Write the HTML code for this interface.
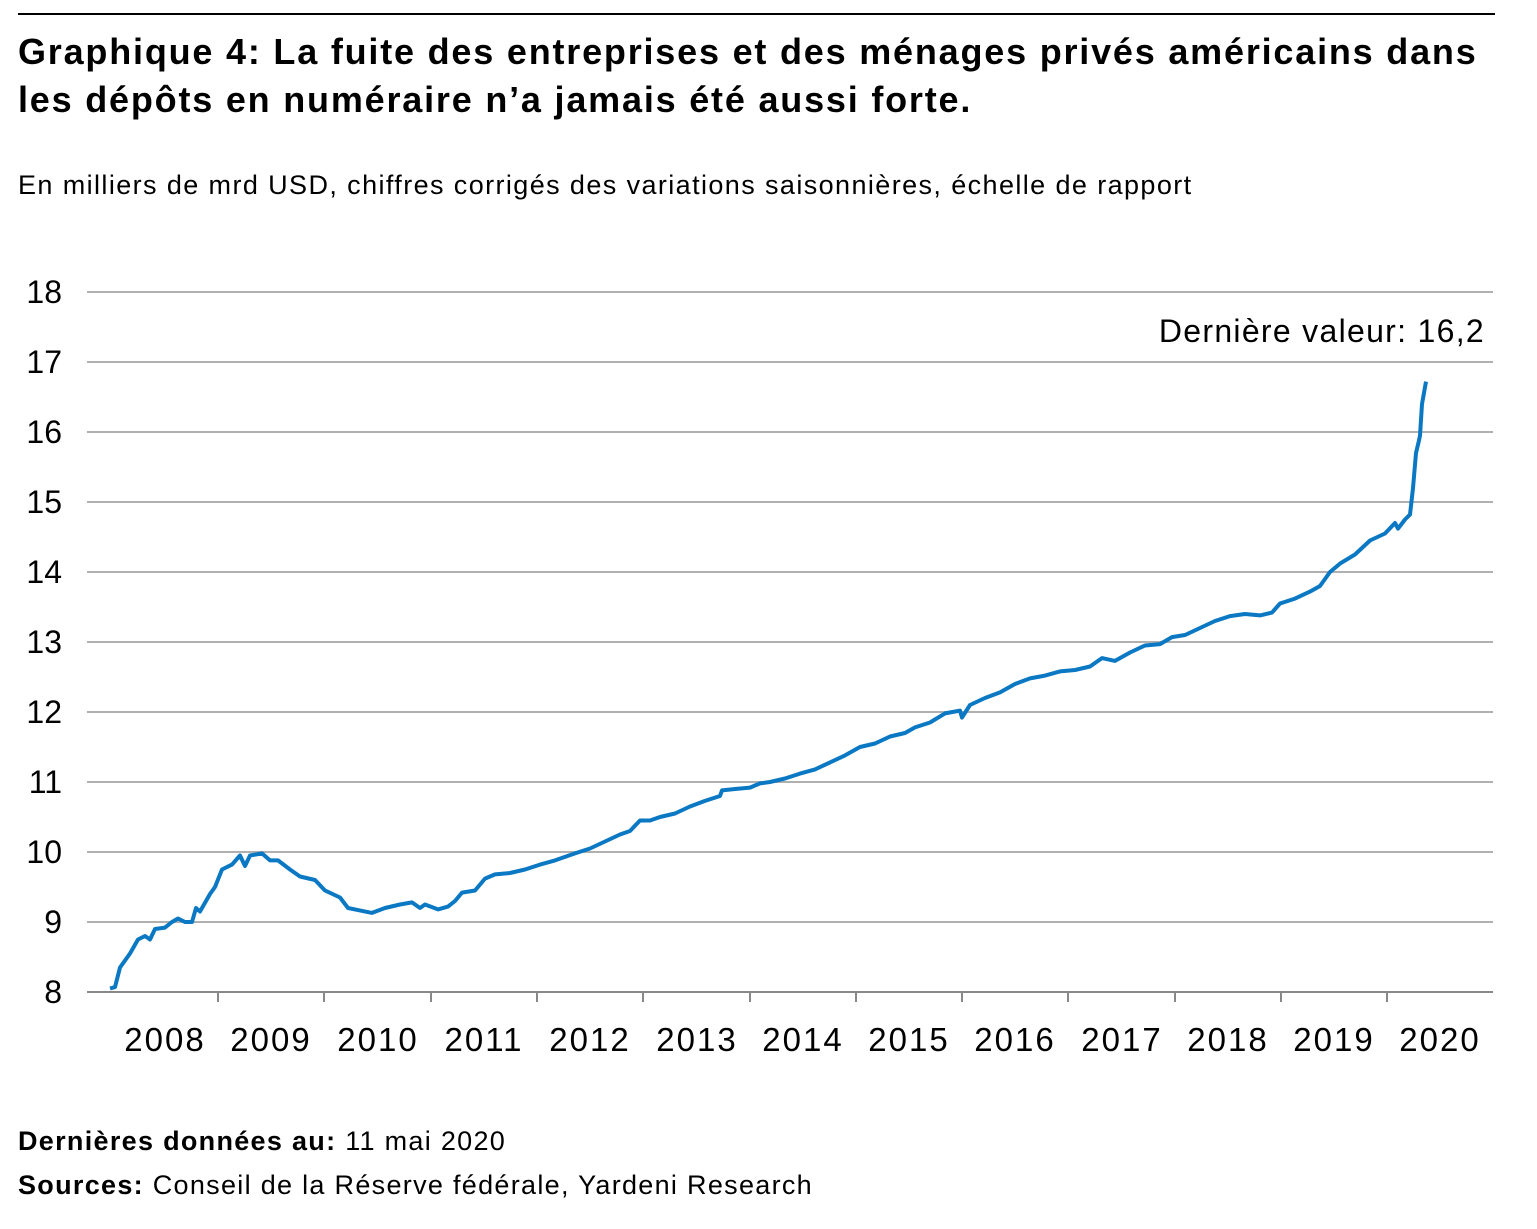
<!DOCTYPE html>
<html><head><meta charset="utf-8"><style>
body{margin:0;background:#fff;width:1537px;height:1229px;overflow:hidden;font-family:"Liberation Sans",sans-serif;color:#000}
.t{position:absolute;left:18px;top:28px;font-size:36px;font-weight:bold;line-height:48px;letter-spacing:1.8px;white-space:nowrap}
.s{position:absolute;left:18px;top:170px;font-size:27px;letter-spacing:1.4px;white-space:nowrap}
.f{position:absolute;left:18px;font-size:27px;letter-spacing:1.3px;white-space:nowrap}
</style></head><body>
<div style="position:absolute;left:18px;top:13px;width:1477px;height:2px;background:#000"></div>
<div class="t">Graphique 4: La fuite des entreprises et des ménages privés américains dans<br>les dépôts en numéraire n’a jamais été aussi forte.</div>
<div class="s">En milliers de mrd USD, chiffres corrigés des variations saisonnières, échelle de rapport</div>
<svg width="1537" height="1229" style="position:absolute;left:0;top:0">
<g stroke="#b0b0b0" stroke-width="2">
<line x1="87" x2="1493" y1="292" y2="292"/><line x1="87" x2="1493" y1="362" y2="362"/><line x1="87" x2="1493" y1="432" y2="432"/><line x1="87" x2="1493" y1="502" y2="502"/><line x1="87" x2="1493" y1="572" y2="572"/><line x1="87" x2="1493" y1="642" y2="642"/><line x1="87" x2="1493" y1="712" y2="712"/><line x1="87" x2="1493" y1="782" y2="782"/><line x1="87" x2="1493" y1="852" y2="852"/><line x1="87" x2="1493" y1="922" y2="922"/>
</g>
<line x1="87" x2="1493" y1="992" y2="992" stroke="#888" stroke-width="2"/>
<g stroke="#888" stroke-width="2">
<line x1="218" x2="218" y1="992" y2="1002"/><line x1="324" x2="324" y1="992" y2="1002"/><line x1="431" x2="431" y1="992" y2="1002"/><line x1="537" x2="537" y1="992" y2="1002"/><line x1="643" x2="643" y1="992" y2="1002"/><line x1="750" x2="750" y1="992" y2="1002"/><line x1="856" x2="856" y1="992" y2="1002"/><line x1="962" x2="962" y1="992" y2="1002"/><line x1="1068" x2="1068" y1="992" y2="1002"/><line x1="1175" x2="1175" y1="992" y2="1002"/><line x1="1281" x2="1281" y1="992" y2="1002"/><line x1="1387" x2="1387" y1="992" y2="1002"/>
</g>
<g font-size="32" text-anchor="end" font-family="Liberation Sans">
<text x="62" y="303">18</text><text x="62" y="373">17</text><text x="62" y="443">16</text><text x="62" y="513">15</text><text x="62" y="583">14</text><text x="62" y="653">13</text><text x="62" y="723">12</text><text x="62" y="793">11</text><text x="62" y="863">10</text><text x="62" y="933">9</text><text x="62" y="1003">8</text>
</g>
<g font-size="33" text-anchor="middle" font-family="Liberation Sans" letter-spacing="2">
<text x="165" y="1051">2008</text><text x="271" y="1051">2009</text><text x="378" y="1051">2010</text><text x="484" y="1051">2011</text><text x="590" y="1051">2012</text><text x="697" y="1051">2013</text><text x="803" y="1051">2014</text><text x="909" y="1051">2015</text><text x="1015" y="1051">2016</text><text x="1122" y="1051">2017</text><text x="1228" y="1051">2018</text><text x="1334" y="1051">2019</text><text x="1440" y="1051">2020</text>
</g>
<text x="1485" y="342" font-size="32" text-anchor="end" font-family="Liberation Sans" letter-spacing="1.3">Dernière valeur: 16,2</text>
<g transform="translate(0,992) scale(1,-70) translate(0,-8)">
<polyline fill="none" stroke="#0a78c2" stroke-width="4" vector-effect="non-scaling-stroke" stroke-linejoin="round" points="110,8.05 115,8.07 120,8.35 130,8.55 138,8.75 145,8.8 150,8.75 155,8.9 165,8.92 172,9.0 178,9.05 185,9.0 192,9.0 196,9.2 200,9.15 210,9.4 215,9.5 222,9.75 232,9.82 240,9.95 245,9.8 250,9.95 262,9.98 270,9.88 278,9.88 290,9.75 300,9.65 315,9.6 325,9.45 340,9.35 348,9.2 358,9.17 372,9.13 385,9.2 400,9.25 412,9.28 420,9.2 425,9.25 438,9.18 448,9.22 455,9.3 462,9.42 475,9.45 485,9.62 495,9.68 510,9.7 525,9.75 540,9.82 555,9.88 575,9.98 590,10.05 605,10.15 620,10.25 630,10.3 640,10.45 650,10.45 660,10.5 675,10.55 690,10.65 705,10.73 720,10.8 722,10.88 735,10.9 750,10.92 760,10.98 770,11.0 785,11.05 800,11.12 815,11.18 830,11.28 845,11.38 860,11.5 875,11.55 890,11.65 905,11.7 915,11.78 930,11.85 945,11.98 960,12.02 962,11.92 970,12.1 985,12.2 1000,12.28 1015,12.4 1030,12.48 1045,12.52 1060,12.58 1075,12.6 1090,12.65 1102,12.77 1115,12.73 1130,12.85 1145,12.95 1160,12.97 1172,13.07 1185,13.1 1200,13.2 1215,13.3 1230,13.37 1245,13.4 1260,13.38 1272,13.42 1280,13.55 1295,13.62 1310,13.72 1320,13.8 1330,14.0 1340,14.12 1355,14.25 1370,14.45 1385,14.55 1395,14.7 1398,14.62 1405,14.75 1410,14.82 1413,15.2 1416,15.7 1419,15.88 1420,15.95 1422,16.4 1426,16.72"/>
</g>
</svg>
<div class="f" style="top:1126px"><b>Dernières données au:</b> 11 mai 2020</div>
<div class="f" style="top:1170px"><b>Sources:</b> Conseil de la Réserve fédérale, Yardeni Research</div>
</body></html>
